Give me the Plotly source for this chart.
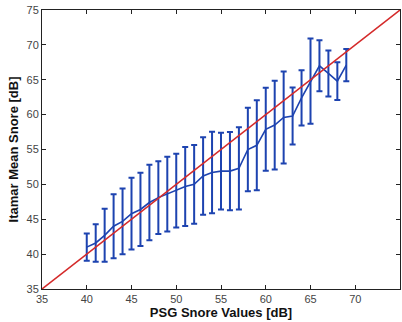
import plotly.graph_objects as go

# PSG snore level (x) vs Itamar mean snore (y) with +/- error bars
psg_db = list(range(40, 70))
itamar_mean = [
    41.0, 41.6, 42.7, 44.0, 44.7, 45.8, 46.4, 47.4, 48.1, 48.6,
    49.1, 49.7, 50.0, 51.2, 51.7, 51.9, 51.9, 52.3, 55.0, 55.6,
    57.9, 58.5, 59.6, 59.8, 62.4, 64.8, 67.0, 65.9, 64.8, 67.1,
]
itamar_err = [
    1.95, 2.7, 3.8, 4.6, 4.7, 5.15, 5.25, 5.4, 5.2, 5.35,
    5.3, 5.65, 5.65, 5.55, 5.85, 5.5, 5.6, 5.9, 6.0, 6.45,
    5.95, 6.35, 6.6, 4.1, 3.95, 6.1, 3.65, 3.3, 2.7, 2.3,
]
# identity line y = x
ident_x = [35, 75]
ident_y = [35, 75]

BLUE = "#1d43b0"
RED = "#d42a2a"
FONT = "Liberation Sans, Arial"

fig = go.Figure()
fig.add_trace(go.Scatter(
    x=psg_db, y=itamar_mean,
    mode="lines",
    line=dict(color=BLUE, width=1.6),
    error_y=dict(type="data", array=itamar_err, visible=True,
                 color=BLUE, thickness=2, width=3),
    showlegend=False,
))
fig.add_trace(go.Scatter(
    x=ident_x, y=ident_y,
    mode="lines",
    line=dict(color=RED, width=1.5),
    showlegend=False,
))

axis_common = dict(
    showgrid=False, zeroline=False, automargin=False,
    showline=True, linecolor="#222", linewidth=1,
    mirror="allticks", ticks="inside", ticklen=4, tickcolor="#222",
    tickfont=dict(family=FONT, size=11, color="#444"),
    dtick=5,
)
fig.update_xaxes(
    range=[35, 75], tick0=35,
    title=dict(text="<b>PSG Snore Values [dB]</b>", standoff=0,
               font=dict(family=FONT, size=13, color="#111")),
    **axis_common,
)
fig.update_yaxes(
    range=[35, 75], tick0=35,
    title=dict(text="<b>Itamar Mean Snore [dB]</b>", standoff=4,
               font=dict(family=FONT, size=13, color="#111")),
    **axis_common,
)

fig.update_layout(
    width=402, height=322,
    margin=dict(l=42, r=2, t=10, b=33),
    paper_bgcolor="white",
    plot_bgcolor="white",
)

# drop the browser's default 8px body margin so the figure sits at (0, 0)
fig.write_html(
    "out.html",
    config={"displayModeBar": False},
    post_script="document.body.style.margin='0';",
)
